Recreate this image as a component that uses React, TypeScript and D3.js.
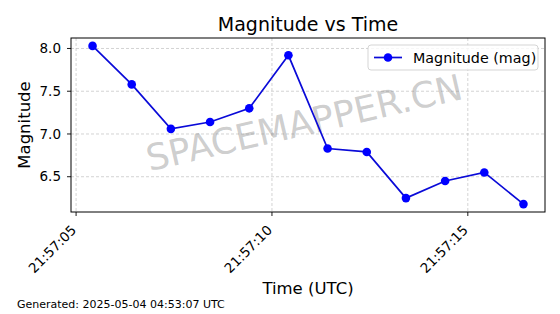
import React from "react";
import * as d3 from "d3";

const times: string[] = [
  "2025-05-03T21:57:05.420Z",
  "2025-05-03T21:57:06.420Z",
  "2025-05-03T21:57:07.420Z",
  "2025-05-03T21:57:08.420Z",
  "2025-05-03T21:57:09.420Z",
  "2025-05-03T21:57:10.420Z",
  "2025-05-03T21:57:11.420Z",
  "2025-05-03T21:57:12.420Z",
  "2025-05-03T21:57:13.420Z",
  "2025-05-03T21:57:14.420Z",
  "2025-05-03T21:57:15.420Z",
  "2025-05-03T21:57:16.420Z",
];
const magnitudes: number[] = [8.03, 7.58, 7.06, 7.14, 7.3, 7.92, 6.83, 6.79, 6.25, 6.45, 6.55, 6.18];
const yTicks: number[] = [6.5, 7.0, 7.5, 8.0];
const xTickTimes: string[] = [
  "2025-05-03T21:57:05.000Z",
  "2025-05-03T21:57:10.000Z",
  "2025-05-03T21:57:15.000Z",
];
const title = "Magnitude vs Time";
const xLabel = "Time (UTC)";
const yLabel = "Magnitude";
const legendLabel = "Magnitude (mag)";
const footnote = "Generated: 2025-05-04 04:53:07 UTC";
const watermark = "SPACEMAPPER.CN";

const W = 560;
const H = 314;
const L = 71, R = 545, T = 38, B = 212;
const FONT = "'DejaVu Sans', sans-serif";

export default function App() {
  const dates = times.map((t) => new Date(t));
  const data = dates.map((d, i) => ({ d, v: magnitudes[i] }));
  const [x0, x1] = d3.extent(dates) as [Date, Date];
  const xPad = (x1.getTime() - x0.getTime()) * 0.05;
  const x = d3
    .scaleUtc()
    .domain([new Date(x0.getTime() - xPad), new Date(x1.getTime() + xPad)])
    .range([L, R]);
  const [y0, y1] = d3.extent(magnitudes) as [number, number];
  const yPad = (y1 - y0) * 0.05;
  const y = d3.scaleLinear().domain([y0 - yPad, y1 + yPad]).range([B, T]);
  const line = d3
    .line<{ d: Date; v: number }>()
    .x((p) => x(p.d))
    .y((p) => y(p.v));
  const fmt = d3.utcFormat("%H:%M:%S");
  const xt = xTickTimes.map((t) => new Date(t));
  const blue = "#0000ff";
  const lineBlue = "#0a0ad8";

  return (
    <svg width={W} height={H} style={{ position: "absolute", left: 0, top: 0, background: "#fff" }} fontFamily={FONT}>
      <rect x={0} y={0} width={W} height={H} fill="#fff" />
      {/* grid */}
      {yTicks.map((t) => (
        <line key={"gy" + t} x1={L} x2={R} y1={y(t)} y2={y(t)} stroke="#b0b0b0" strokeOpacity={0.7} strokeWidth={0.8} strokeDasharray="3,2" />
      ))}
      {xt.map((t, i) => (
        <line key={"gx" + i} x1={x(t)} x2={x(t)} y1={T} y2={B} stroke="#b0b0b0" strokeOpacity={0.7} strokeWidth={0.8} strokeDasharray="3,2" />
      ))}
      {/* watermark */}
      <text
        transform={`translate(307,135) rotate(-13)`}
        textAnchor="middle"
        fontSize={36}
        fill="#808080"
        fillOpacity={0.4}
      >
        {watermark}
      </text>
      {/* line */}
      <path d={line(data) || ""} fill="none" stroke={lineBlue} strokeWidth={1.7} />
      {data.map((p, i) => (
        <circle key={i} cx={x(p.d)} cy={y(p.v)} r={4.3} fill={blue} />
      ))}
      {/* axes frame */}
      <rect x={L} y={T} width={R - L} height={B - T} fill="none" stroke="#000" strokeWidth={1} />
      {/* y ticks */}
      {yTicks.map((t) => (
        <g key={"yt" + t}>
          <line x1={L - 4} x2={L} y1={y(t)} y2={y(t)} stroke="#000" strokeWidth={0.9} />
          <text x={L - 10} y={y(t)} dy="0.35em" textAnchor="end" fontSize={13.5} fill="#000">
            {d3.format(".1f")(t)}
          </text>
        </g>
      ))}
      {/* x ticks */}
      {xt.map((t, i) => (
        <g key={"xt" + i}>
          <line x1={x(t)} x2={x(t)} y1={B} y2={B + 4} stroke="#000" strokeWidth={0.9} />
          <text
            transform={`translate(${x(t) + 1},${B + 19}) rotate(-45)`}
            textAnchor="end"
            fontSize={13.5}
            fill="#000"
          >
            {fmt(t)}
          </text>
        </g>
      ))}
      {/* labels */}
      <text x={(L + R) / 2} y={31} textAnchor="middle" fontSize={19} fill="#000">
        {title}
      </text>
      <text x={(L + R) / 2} y={294} textAnchor="middle" fontSize={16.5} fill="#000">
        {xLabel}
      </text>
      <text transform={`translate(30,${(T + B) / 2}) rotate(-90)`} textAnchor="middle" fontSize={16.5} fill="#000">
        {yLabel}
      </text>
      {/* legend */}
      <rect x={368} y={45} width={170} height={25} rx={3} fill="#fff" fillOpacity={0.8} stroke="#d0d0d0" strokeWidth={0.9} />
      <line x1={374} x2={402} y1={57.5} y2={57.5} stroke={lineBlue} strokeWidth={1.7} />
      <circle cx={388} cy={57.5} r={4.3} fill={blue} />
      <text x={413} y={62.5} fontSize={14.3} fill="#000">
        {legendLabel}
      </text>
      {/* footnote */}
      <text x={17} y={308} fontSize={11} fill="#000">
        {footnote}
      </text>
    </svg>
  );
}
